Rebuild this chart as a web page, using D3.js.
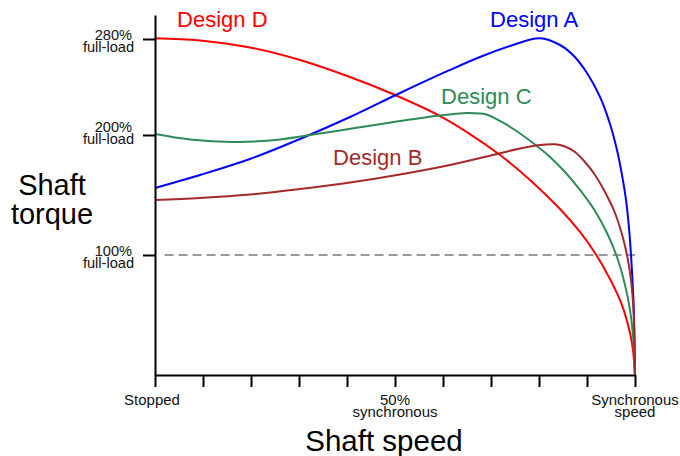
<!DOCTYPE html>
<html>
<head>
    <title>Motor torque curves</title>
    <script src="https://d3js.org/d3.v7.min.js"></script>
    <style>
        body { margin: 0; background: #fff; }
        text { font-family: "Liberation Sans", Arial, sans-serif; }
    </style>
</head>
<body>
    <div id="chart"></div>
    <script>

        // speed in % of synchronous, torque in % of full-load
        const designASpeed  = [0, 9.38, 19.79, 30.21, 40.63, 51.04, 61.46, 67.71, 73.96, 80.21, 84.38, 87.08, 90, 92.71, 94.79, 96.25, 97.29, 98.13, 98.75, 99.17, 99.58, 99.79, 100];
        const designATorque = [155.8, 166.7, 180, 196.7, 215, 235, 254.2, 265, 274.2, 280.6, 275, 266.7, 251.7, 231.7, 209.2, 187.5, 166.7, 145.8, 122.5, 100, 70.8, 50, 0];

        const designBSpeed  = [0, 9.38, 19.79, 30.21, 40.63, 51.04, 61.46, 71.25, 76.04, 80.21, 83.33, 85.42, 87.5, 89.58, 91.67, 93.75, 95.83, 97.5, 98.75, 99.38, 99.79, 100];
        const designBTorque = [145.8, 147.5, 150.4, 155, 160.4, 167.1, 175, 184.2, 188.8, 191.7, 192.3, 190.4, 185.8, 177.5, 166.7, 152.5, 135, 114.2, 90.8, 70.8, 44.2, 0];

        const designCSpeed  = [0, 7.29, 16.25, 23.96, 32.29, 41.67, 51.04, 59.38, 65, 67.71, 69.38, 71.88, 75, 78.75, 82.29, 85.42, 88.54, 91.67, 94.17, 96.25, 97.92, 98.96, 99.58, 100];
        const designCTorque = [200.8, 196.3, 194.2, 195.4, 200, 205.8, 211.7, 216.3, 218.3, 217.9, 216.7, 211.7, 204.2, 193.3, 181.7, 169.2, 154.2, 136.7, 118.3, 98.3, 75, 54.2, 33.3, 0];

        const designDSpeed  = [0, 9.38, 19.79, 30.21, 40.63, 50, 59.38, 65.63, 71.88, 78.13, 84.38, 88.54, 91.67, 94.79, 97.29, 98.96, 99.58, 100];
        const designDTorque = [280.6, 278.8, 272.9, 262.5, 248.3, 233.3, 215.8, 200.8, 183.3, 162.5, 138.3, 119.2, 101.7, 80, 58.3, 35, 20.8, 0];

        const designNames = ["Design A", "Design B", "Design C", "Design D"];

        // tick marks and labels
        const speedTicks = [0, 10, 20, 30, 40, 50, 60, 70, 80, 90, 100];
        const speedLabelValues = [0, 50, 100];
        const speedLabelLines = [["Stopped"], ["50%", "synchronous"], ["Synchronous", "speed"]];
        const torqueTicks = [100, 200, 280];
        const torqueLabelLines = [["100%", "full-load"], ["200%", "full-load"], ["280%", "full-load"]];
        const fullLoad = 100;

        // size
        const W = 680, H = 456;
        const plotLeft = 155, plotRight = 635, plotTop = 15, plotBottom = 375;

        const svg = d3.select("#chart")
            .append("svg")
                .attr("width", W)
                .attr("height", H);

        const x = d3.scaleLinear().domain([0, 100]).range([plotLeft, plotRight]);
        const y = d3.scaleLinear().domain([0, 300]).range([plotBottom, plotTop]);

        // dashed 100% line
        svg.append("line")
            .attr("x1", x(2))
            .attr("x2", x(100))
            .attr("y1", y(fullLoad))
            .attr("y2", y(fullLoad))
            .attr("stroke", "#999")
            .attr("stroke-width", 2)
            .attr("stroke-dasharray", "9,5");

        // curves
        const line = d3.line()
            .x(d => x(d[0]))
            .y(d => y(d[1]))
            .curve(d3.curveCatmullRom.alpha(0.5));

        const series = [
            { name: designNames[3], speed: designDSpeed, torque: designDTorque, color: "#ff0000", lx: 4.6, ly: 290 },
            { name: designNames[0], speed: designASpeed, torque: designATorque, color: "#0000ff", lx: 69.8, ly: 290 },
            { name: designNames[2], speed: designCSpeed, torque: designCTorque, color: "#2e8b57", lx: 59.6, ly: 226 },
            { name: designNames[1], speed: designBSpeed, torque: designBTorque, color: "#a52a2a", lx: 37.1, ly: 175 },
        ];

        series.forEach(s => {
            svg.append("path")
                .datum(d3.zip(s.speed, s.torque))
                .attr("fill", "none")
                .attr("stroke", s.color)
                .attr("stroke-width", 2)
                .attr("d", line);

            svg.append("text")
                .attr("x", x(s.lx))
                .attr("y", y(s.ly))
                .attr("fill", s.color)
                .attr("font-size", 22)
                .text(s.name);
        });

        // x axis
        const xAxis = svg.append("g")
            .attr("transform", `translate(0,${plotBottom})`)
            .call(d3.axisBottom(x).tickValues(speedTicks).tickSize(12).tickSizeOuter(0).tickFormat(""));

        // y axis
        const yAxis = svg.append("g")
            .attr("transform", `translate(${plotLeft},0)`)
            .call(d3.axisLeft(y).tickValues(torqueTicks).tickSize(12).tickSizeOuter(0).tickFormat(""));

        [xAxis, yAxis].forEach(g => {
            g.selectAll("path, line").attr("stroke", "#000").attr("stroke-width", 2);
        });

        // x tick labels
        speedLabelValues.forEach((v, i) => {
            const t = svg.append("text")
                .attr("text-anchor", "middle")
                .attr("font-size", 15)
                .attr("fill", "#111");
            speedLabelLines[i].forEach((s, j) => {
                t.append("tspan")
                    .attr("x", x(v) - (i === 0 ? 3 : 0))
                    .attr("y", 405 + j * 12)
                    .text(s);
            });
        });

        // y tick labels
        torqueTicks.forEach((v, i) => {
            const t = svg.append("text")
                .attr("text-anchor", "end")
                .attr("font-size", 14.6)
                .attr("fill", "#111");
            const shift = v === 200 ? -4 : 0;
            torqueLabelLines[i].forEach((s, j) => {
                t.append("tspan")
                    .attr("x", j === 0 ? 132 : 134)
                    .attr("y", y(v) + 1 + shift + j * 11.7)
                    .text(s);
            });
        });

        // axis titles
        svg.append("text")
            .attr("x", 384)
            .attr("y", 451)
            .attr("text-anchor", "middle")
            .attr("font-size", 29.5)
            .text("Shaft speed");

        const yt = svg.append("text")
            .attr("text-anchor", "middle")
            .attr("font-size", 29);
        ["Shaft", "torque"].forEach((s, j) => {
            yt.append("tspan")
                .attr("x", 52)
                .attr("y", 195 + j * 29)
                .text(s);
        });

    </script>
</body>
</html>
